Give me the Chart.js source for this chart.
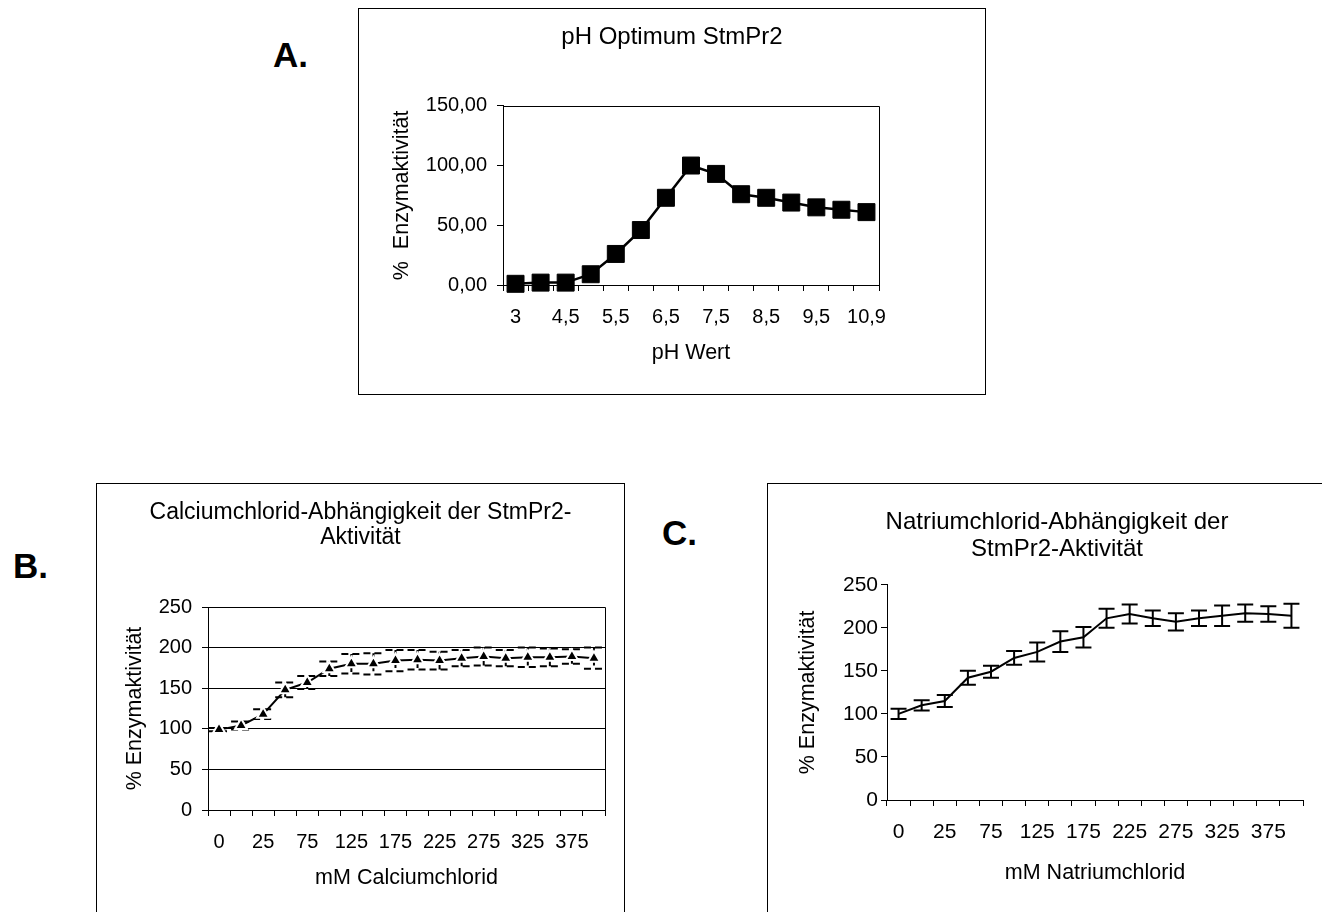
<!DOCTYPE html>
<html>
<head>
<meta charset="utf-8">
<title>StmPr2 Enzymaktivität</title>
<script src="https://cdn.jsdelivr.net/npm/chart.js@4/dist/chart.umd.min.js"></script>
<style>
  body { margin: 0; background: #fff; }
  #page { position: relative; width: 1322px; height: 912px; overflow: hidden; background: #fff; }
  .box { position: absolute; border: 1px solid #000; background: #fff; }
  .box canvas { position: absolute; left: 0; top: 0; }
  .tag { position: absolute; font: bold 35px Arial, 'Liberation Sans', sans-serif; line-height: 1; color: #000; }
</style>
</head>
<body>
<div id="page">
  <div class="tag" style="left:273px;top:37px">A.</div>
  <div class="tag" style="left:13px;top:548px">B.</div>
  <div class="tag" style="left:662px;top:515px">C.</div>
  <div class="box" style="left:358px;top:8px;width:626px;height:385px"><canvas id="phChart" width="626" height="385"></canvas></div>
  <div class="box" style="left:96px;top:483px;width:527px;height:438px"><canvas id="caChart" width="527" height="438"></canvas></div>
  <div class="box" style="left:767px;top:483px;width:578px;height:438px"><canvas id="naChart" width="578" height="438"></canvas></div>
</div>
<script>
// pH-Optimum
const phWerte = ['3', '4', '4,5', '5', '5,5', '6', '6,5', '7', '7,5', '8', '8,5', '9', '9,5', '10', '10,9'];
const phAktivitaet = [1, 2, 2, 9, 26, 46, 73, 100, 93, 76, 73, 69, 65, 63, 61];

// Salzkonzentrationen (mM)
const salzKonz = ['0', '10', '25', '50', '75', '100', '125', '150', '175', '200', '225', '250', '275', '300', '325', '350', '375', '400'];

// CaCl2
const caAktivitaet = [99, 104, 118, 148, 157, 174, 180, 180, 184, 185, 184, 187, 189, 187, 188, 188, 189, 187];
const caFehler = [2, 5, 6, 9, 8, 9, 12, 13, 13, 12, 11, 10, 11, 10, 12, 11, 9, 13];

// NaCl
const naAktivitaet = [100, 110, 115, 142, 149, 165, 172, 184, 189, 211, 216, 211, 207, 211, 214, 217, 216, 214];
const naFehler = [6, 6, 7, 8, 7, 8, 11, 12, 12, 11, 11, 9, 10, 9, 12, 10, 9, 14];

const FONT = "Arial, 'Liberation Sans', sans-serif";
Chart.defaults.font.family = FONT;
Chart.defaults.color = '#000';

// Fehlerbalken: senkrechter Strich + Querstriche aus dataset.errors
const errorBars = {
  id: 'errorBars',
  beforeDatasetsDraw(chart, args, opts) {
    const ctx = chart.ctx;
    const yScale = chart.scales.y;
    chart.data.datasets.forEach((ds, di) => {
      if (!ds.errors) return;
      const meta = chart.getDatasetMeta(di);
      ctx.save();
      ctx.strokeStyle = '#000';
      ctx.lineWidth = opts.width;
      ctx.setLineDash(opts.dash || []);
      meta.data.forEach((pt, i) => {
        const yo = yScale.getPixelForValue(ds.data[i] + ds.errors[i]);
        const yu = yScale.getPixelForValue(ds.data[i] - ds.errors[i]);
        const w = opts.cap;
        ctx.beginPath();
        ctx.moveTo(pt.x, yo); ctx.lineTo(pt.x, yu);
        ctx.moveTo(pt.x - w, yo); ctx.lineTo(pt.x + w, yo);
        ctx.moveTo(pt.x - w, yu); ctx.lineTo(pt.x + w, yu);
        ctx.stroke();
      });
      ctx.restore();
    });
  }
};

// Rahmen oben/rechts um die Zeichenfläche
const plotFrame = {
  id: 'plotFrame',
  beforeDatasetsDraw(chart) {
    const a = chart.chartArea;
    const ctx = chart.ctx;
    ctx.save();
    ctx.strokeStyle = '#000';
    ctx.lineWidth = 1;
    ctx.beginPath();
    ctx.moveTo(Math.round(a.left), Math.round(a.top) + 0.5);
    ctx.lineTo(Math.round(a.right) + 0.5, Math.round(a.top) + 0.5);
    ctx.lineTo(Math.round(a.right) + 0.5, Math.round(a.bottom));
    ctx.stroke();
    ctx.restore();
  }
};

function achsen(o) {
  return {
    x: {
      type: 'category',
      offset: true,
      afterFit: (s) => { s.height = o.xHeight; },
      grid: { offset: true, drawOnChartArea: false, drawTicks: true, tickLength: 6, color: '#000' },
      border: { color: '#000', width: 1 },
      ticks: {
        autoSkip: false, maxRotation: 0, padding: o.xTickPad,
        font: { size: o.tickSize },
        callback: function (v, i) { return i % 2 === 0 ? this.getLabelForValue(v) : ''; }
      },
      title: { display: true, text: o.xTitle, font: { size: 21.5 }, padding: { top: 0, bottom: o.xTitlePad } }
    },
    y: {
      min: 0, max: o.yMax,
      afterFit: (s) => { s.width = o.yWidth; },
      grid: { drawOnChartArea: o.yGrid, drawTicks: true, tickLength: 6, color: '#000' },
      border: { color: '#000', width: 1 },
      ticks: { stepSize: 50, padding: o.yTickPad, font: { size: o.tickSize }, callback: o.yFmt },
      title: { display: true, text: o.yTitle, font: { size: 21.5 }, padding: { top: o.yTitlePad, bottom: 0 } }
    },
    // leerer Rand rechts, damit der Titel über dem ganzen Kasten zentriert bleibt
    rand: {
      type: 'linear', position: 'right', display: true,
      afterFit: (s) => { s.width = o.right; },
      grid: { display: false }, border: { display: false },
      ticks: { display: false }, title: { display: false }
    }
  };
}

function basis(titel, groesse, titelPad, lh, scales) {
  return {
    responsive: false,
    animation: false,
    devicePixelRatio: 1,
    layout: { padding: 0 },
    plugins: {
      legend: { display: false },
      tooltip: { enabled: false },
      title: { display: true, text: titel, font: { size: groesse, weight: 'normal', lineHeight: lh }, padding: titelPad }
    },
    scales: scales
  };
}

// A: pH-Optimum
new Chart(document.getElementById('phChart'), {
  type: 'line',
  data: {
    labels: phWerte,
    datasets: [{
      data: phAktivitaet,
      borderColor: '#000',
      borderWidth: 2.5,
      pointStyle: 'rect',
      pointRadius: 12,
      pointBackgroundColor: '#000',
      pointBorderColor: '#000',
      pointBorderWidth: 1,
      clip: false
    }]
  },
  options: basis('pH Optimum StmPr2', 24, { top: 14, bottom: 54 }, 1.2, achsen({
    xHeight: 109, xTickPad: 14, xTitle: 'pH Wert', xTitlePad: 28, tickSize: 20,
    yMax: 150, yWidth: 144, yTickPad: 10, yGrid: false, yTitlePad: 30, right: 106,
    yTitle: '%  Enzymaktivität',
    yFmt: (v) => v.toFixed(2).replace('.', ',')
  })),
  plugins: [plotFrame]
});

// B: Calciumchlorid
const caOpts = basis(['Calciumchlorid-Abhängigkeit der StmPr2-', 'Aktivität'], 23, { top: 16, bottom: 57 }, 1.087, achsen({
  xHeight: 112, xTickPad: 14, xTitle: 'mM Calciumchlorid', xTitlePad: 31, tickSize: 20,
  yMax: 250, yWidth: 111, yTickPad: 10, yGrid: true, yTitlePad: 25, right: 19,
  yTitle: '% Enzymaktivität',
  yFmt: (v) => v
}));
caOpts.plugins.errorBars = { width: 2, cap: 10, dash: [7, 4] };
new Chart(document.getElementById('caChart'), {
  type: 'line',
  data: {
    labels: salzKonz,
    datasets: [{
      data: caAktivitaet,
      errors: caFehler,
      borderColor: '#000',
      borderWidth: 2,
      pointStyle: 'triangle',
      pointRadius: 7,
      pointBackgroundColor: '#000',
      pointBorderColor: '#fff',
      pointBorderWidth: 2,
      clip: false
    }]
  },
  options: caOpts,
  plugins: [plotFrame, errorBars]
});

// C: Natriumchlorid
const naOpts = basis(['Natriumchlorid-Abhängigkeit der', 'StmPr2-Aktivität'], 24, { top: 25, bottom: 22 }, 1.12, achsen({
  xHeight: 122, xTickPad: 14, xTitle: 'mM Natriumchlorid', xTitlePad: 36, tickSize: 21,
  yMax: 250, yWidth: 119, yTickPad: 3, yGrid: false, yTitlePad: 27, right: 43,
  yTitle: '% Enzymaktivität',
  yFmt: (v) => v
}));
naOpts.plugins.errorBars = { width: 2, cap: 8 };
new Chart(document.getElementById('naChart'), {
  type: 'line',
  data: {
    labels: salzKonz,
    datasets: [{
      data: naAktivitaet,
      errors: naFehler,
      borderColor: '#000',
      borderWidth: 2,
      pointRadius: 0,
      clip: false
    }]
  },
  options: naOpts,
  plugins: [errorBars]
});
</script>
</body>
</html>
